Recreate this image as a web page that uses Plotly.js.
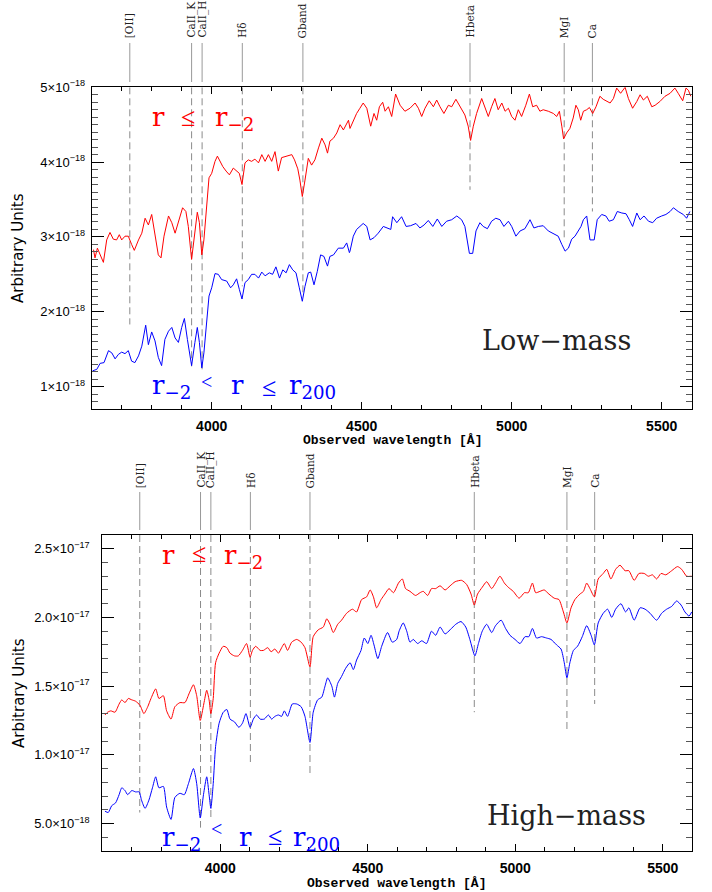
<!DOCTYPE html>
<html>
<head>
<meta charset="utf-8">
<script src="https://cdn.plot.ly/plotly-3.0.1.min.js"></script>
<style>html,body{margin:0;padding:0;background:#fff;}#chart{width:712px;height:892px;}</style>
</head>
<body>
<div id="chart"></div>
<script>
// ---------------- DATA ----------------
// Spectral line markers
const lineNames = ["[OII]", "CaII_K", "CaII_H", "H\u03b4", "Gband", "Hbeta", "MgI", "Ca"];
const lineWaves = [3727, 3933, 3968, 4102, 4304, 4861, 5175, 5269];
// lower end of dashed markers (top panel in 1e-18, bottom panel in 1e-17)
const lineEndsLow  = [1.83, 1.27, 1.23, 2.34, 2.26, 3.63, 2.94, 3.34];
const lineEndsHigh = [0.58, 0.47, 0.53, 0.94, 0.86, 1.31, 1.18, 1.37];

// Low-mass, r <= r_-2 (units of 1e-18)
const lowRedWave = [3606,3611,3619,3639,3650,3661,3672,3683,3692,3700,3711,3722,3733,3742,3756,3767,3778,3789,3800,3811,3822,3831,3841,3856,3867,3878,3889,3903,3914,3922,3933,3942,3952,3959,3967,3974,3983,3991,4000,4011,4019,4028,4037,4048,4059,4072,4083,4092,4101,4111,4122,4133,4144,4156,4167,4178,4189,4200,4211,4222,4233,4244,4256,4267,4276,4287,4294,4302,4311,4322,4333,4344,4356,4367,4378,4386,4394,4406,4417,4428,4439,4456,
4461,4472,4483,4494,4505,4517,4530,4541,4550,4559,4570,4578,4589,4600,4613,4628,4644,4661,4678,4689,4700,4711,4725,4739,4750,4761,4774,4789,4800,4814,4828,4844,4855,4863,4872,4883,4900,4911,4922,4933,4944,4955,4967,4978,4989,5000,5011,5022,5033,5047,5059,5070,5083,5094,5105,5122,5139,5150,5159,5167,5173,5183,5194,5205,5214,5222,5230,5239,5250,5259,5270,5281,5294,5305,5317,5328,5339,5350,5363,5378,5389,5403,5417,5428,5439,5452,5467,5478,5494,5511,5528,5544,5555,5570,5581,5589,5597];
const lowRedFlux = [2.83,2.72,2.85,2.66,2.96,3.06,2.97,2.96,3.03,2.96,3.01,3.01,2.90,2.82,2.96,3.05,3.25,3.16,3.30,3.01,2.76,2.72,3.01,3.28,3.19,3.05,3.19,3.39,3.34,3.14,2.70,3.01,3.33,3.19,2.76,2.96,3.41,3.79,3.85,4.01,4.08,4.01,3.94,3.88,3.83,3.92,3.88,3.85,3.70,3.99,4.03,4.01,4.04,3.99,4.10,4.01,4.10,4.01,4.14,3.88,4.06,4.07,4.08,4.10,4.03,3.91,3.76,3.54,3.76,4.05,3.96,4.03,4.19,4.32,4.23,4.12,4.28,4.32,4.39,4.50,4.43,4.56,
4.45,4.56,4.65,4.72,4.79,4.72,4.48,4.65,4.56,4.74,4.80,4.68,4.74,4.61,4.91,4.76,4.68,4.72,4.79,4.72,4.61,4.72,4.82,4.74,4.83,4.74,4.65,4.76,4.74,4.84,4.74,4.63,4.48,4.29,4.48,4.65,4.85,4.74,4.61,4.74,4.85,4.70,4.79,4.68,4.72,4.61,4.56,4.70,4.61,4.76,4.91,4.74,4.76,4.68,4.70,4.68,4.65,4.61,4.68,4.48,4.31,4.39,4.45,4.59,4.76,4.70,4.56,4.68,4.70,4.73,4.65,4.74,4.88,4.84,4.81,4.79,4.85,4.99,4.92,5.00,4.85,4.72,4.81,4.90,4.83,4.88,4.74,4.76,4.81,4.88,4.92,4.99,4.92,4.82,4.99,4.96,4.88];

// Low-mass, r_-2 < r <= r_200 (units of 1e-18)
const lowBlueWave = [3603,3617,3628,3641,3656,3667,3678,3689,3700,3711,3722,3733,3744,3756,3767,3780,3789,3800,3811,3822,3833,3844,3856,3867,3878,3889,3900,3909,3919,3933,3944,3952,3959,3967,3974,3983,3991,4000,4011,4022,4033,4050,4063,4072,4083,4092,4101,4111,4122,4133,4144,4156,4167,4178,4192,4203,4214,4226,4237,4248,4259,4270,4281,4292,4302,4311,4322,4330,4341,4352,4363,4374,4386,4394,4406,4422,4439,4450,4459,
4461,4472,4483,4494,4505,4517,4528,4541,4555,4572,4585,4597,4603,4617,4633,4648,4663,4681,4694,4708,4722,4737,4752,4767,4783,4800,4817,4833,4844,4852,4859,4870,4881,4894,4905,4919,4933,4947,4961,4974,4989,5000,5014,5028,5044,5061,5074,5089,5105,5122,5139,5155,5167,5178,5189,5200,5211,5222,5231,5239,5250,5261,5275,5285,5300,5314,5325,5339,5352,5367,5381,5392,5403,5417,5428,5441,5456,5470,5483,5500,5514,5528,5539,5555,5572,5583,5594];
const lowBlueFlux = [1.21,1.23,1.31,1.32,1.48,1.45,1.37,1.43,1.46,1.44,1.48,1.34,1.32,1.41,1.54,1.82,1.56,1.73,1.61,1.39,1.28,1.63,1.74,1.79,1.65,1.59,1.79,1.91,1.63,1.28,1.59,1.79,1.59,1.25,1.45,1.90,2.21,2.32,2.51,2.50,2.43,2.41,2.32,2.36,2.44,2.30,2.17,2.39,2.43,2.50,2.50,2.45,2.53,2.48,2.52,2.50,2.60,2.45,2.56,2.52,2.63,2.56,2.52,2.32,2.14,2.34,2.52,2.53,2.36,2.54,2.76,2.74,2.61,2.74,2.76,2.85,2.85,2.92,2.79,
2.81,3.01,3.10,3.14,3.18,3.14,2.96,2.99,3.05,3.14,3.12,3.10,3.27,3.19,3.27,3.14,3.15,3.18,3.12,3.16,3.22,3.14,3.24,3.14,3.21,3.23,3.28,3.23,3.14,2.96,2.78,2.78,3.08,3.19,3.14,3.11,3.21,3.25,3.23,3.14,3.21,3.14,3.01,3.08,3.11,3.23,3.12,3.14,3.15,3.08,3.04,3.01,2.90,2.81,2.85,2.97,3.01,3.08,3.14,3.23,3.28,2.96,2.96,3.23,3.30,3.28,3.21,3.23,3.34,3.32,3.31,3.23,3.14,3.32,3.23,3.28,3.21,3.19,3.25,3.28,3.30,3.34,3.39,3.34,3.30,3.25,3.34];

// High-mass, r <= r_-2 (units of 1e-17)
const highRedWave = [3609,3618,3629,3643,3657,3666,3677,3688,3700,3713,3728,3741,3754,3765,3781,3792,3807,3818,3833,3846,3863,3880,3895,3909,3920,3932,3944,3954,3962,3968,3976,3984,3996,4010,4022,4033,4048,4061,4075,4089,4101,4109,4120,4135,4146,4161,4172,4185,4197,4208,4217,4228,4242,4259,4274,4287,4304,4315,4332,4349,4361,4372,4383,4398,4411,4428,4448,4462,4479,4496,4508,4519,4530,4545,4558,4572,4587,4604,
4617,4628,4643,4662,4677,4688,4703,4716,4730,4745,4762,4779,4796,4818,4835,4850,4861,4872,4888,4903,4920,4933,4948,4963,4976,4993,5013,5031,5044,5058,5069,5084,5098,5114,5132,5148,5163,5175,5189,5202,5219,5231,5242,5253,5268,5281,5298,5310,5324,5340,5355,5372,5385,5403,5419,5437,5451,5465,5479,5494,5510,5530,5550,5564,5581,5598];
const highRedFlux = [1.29,1.31,1.32,1.31,1.37,1.40,1.38,1.41,1.40,1.39,1.36,1.30,1.35,1.41,1.48,1.41,1.43,1.32,1.26,1.35,1.38,1.38,1.45,1.51,1.43,1.25,1.37,1.47,1.40,1.30,1.41,1.67,1.74,1.79,1.78,1.74,1.72,1.72,1.76,1.81,1.71,1.76,1.79,1.76,1.76,1.78,1.75,1.77,1.74,1.78,1.81,1.76,1.82,1.84,1.82,1.78,1.64,1.86,1.91,1.93,1.99,1.95,1.89,1.95,1.98,2.03,2.06,2.04,2.13,2.15,2.20,2.15,2.07,2.13,2.17,2.21,2.18,2.25,
2.28,2.21,2.19,2.16,2.18,2.19,2.16,2.21,2.21,2.23,2.20,2.23,2.26,2.27,2.24,2.17,2.09,2.17,2.22,2.26,2.21,2.25,2.30,2.25,2.22,2.19,2.14,2.18,2.18,2.25,2.18,2.19,2.20,2.17,2.14,2.13,2.04,1.96,2.07,2.13,2.17,2.19,2.25,2.21,2.15,2.28,2.32,2.35,2.28,2.35,2.38,2.34,2.34,2.27,2.32,2.32,2.30,2.31,2.28,2.32,2.31,2.34,2.37,2.35,2.30,2.30];

// High-mass, r_-2 < r <= r_200 (units of 1e-17)
const highBlueWave = [3609,3620,3632,3645,3657,3666,3677,3686,3700,3713,3725,3733,3745,3758,3770,3781,3792,3807,3818,3833,3846,3863,3878,3892,3909,3920,3932,3943,3954,3962,3968,3976,3984,3996,4010,4022,4033,4048,4063,4075,4087,4101,4112,4123,4135,4149,4163,4174,4185,4197,4208,4217,4228,4244,4259,4274,4287,4304,4315,4330,4344,4355,4364,4378,4387,4398,4411,4425,4440,4451,4462,4477,4488,4500,4511,4521,4534,4547,4567,4583,4598,4606,
4620,4632,4643,4654,4669,4683,4699,4716,4730,4745,4762,4779,4798,4816,4832,4846,4863,4875,4888,4903,4920,4933,4952,4967,4982,4999,5016,5033,5046,5058,5072,5089,5106,5121,5140,5155,5166,5175,5185,5197,5211,5227,5242,5257,5268,5281,5298,5313,5327,5340,5358,5374,5385,5403,5423,5440,5457,5479,5496,5513,5530,5547,5562,5575,5589,5598];
const highBlueFlux = [0.59,0.58,0.63,0.65,0.71,0.76,0.74,0.71,0.74,0.73,0.73,0.67,0.61,0.67,0.76,0.84,0.76,0.77,0.62,0.53,0.69,0.72,0.71,0.79,0.90,0.79,0.54,0.71,0.84,0.71,0.61,0.79,1.06,1.23,1.31,1.33,1.26,1.24,1.20,1.23,1.30,1.20,1.26,1.29,1.26,1.26,1.29,1.26,1.28,1.29,1.28,1.32,1.28,1.37,1.37,1.35,1.28,1.09,1.31,1.40,1.42,1.50,1.56,1.50,1.42,1.52,1.57,1.63,1.67,1.62,1.69,1.76,1.85,1.81,1.87,1.80,1.70,1.79,1.89,1.82,1.84,1.90,
1.96,1.90,1.82,1.84,1.81,1.83,1.81,1.90,1.87,1.93,1.88,1.91,1.95,1.97,1.93,1.84,1.72,1.81,1.90,1.95,1.89,1.94,1.98,1.92,1.87,1.84,1.81,1.86,1.86,1.92,1.85,1.86,1.85,1.84,1.80,1.77,1.67,1.56,1.67,1.76,1.79,1.86,1.94,1.87,1.80,1.96,2.03,2.06,2.00,2.06,2.10,2.04,2.07,1.98,2.07,2.06,2.03,1.98,2.03,2.06,2.08,2.12,2.09,2.04,2.01,2.04];

// Tick labels
const xTickVals = [4000, 4500, 5000, 5500];
const xTickText = ["4000", "4500", "5000", "5500"];
const lowTickVals = [1, 2, 3, 4, 5];
const lowTickText = ["1\u00d710<sup>\u221218</sup>", "2\u00d710<sup>\u221218</sup>", "3\u00d710<sup>\u221218</sup>", "4\u00d710<sup>\u221218</sup>", "5\u00d710<sup>\u221218</sup>"];
const highTickVals = [0.5, 1.0, 1.5, 2.0, 2.5];
const highTickText = ["5.0\u00d710<sup>\u221218</sup>", "1.0\u00d710<sup>\u221217</sup>", "1.5\u00d710<sup>\u221217</sup>", "2.0\u00d710<sup>\u221217</sup>", "2.5\u00d710<sup>\u221217</sup>"];

const xTitle = "Observed wavelength [\u00c5]";
const yTitle = "Arbitrary Units";

// ---------------- LAYOUT ----------------
const W = 712, H = 892;
const px = v => v / W;
const py = v => 1 - v / H;

const RED = "rgb(255,0,0)", BLUE = "rgb(0,0,255)";

const traces = [
  {x: lowRedWave, y: lowRedFlux, xaxis: "x", yaxis: "y", mode: "lines", line: {color: RED, width: 1}, hoverinfo: "skip"},
  {x: lowBlueWave, y: lowBlueFlux, xaxis: "x", yaxis: "y", mode: "lines", line: {color: BLUE, width: 1}, hoverinfo: "skip"},
  {x: highRedWave, y: highRedFlux, xaxis: "x2", yaxis: "y2", mode: "lines", line: {color: RED, width: 1, shape: "spline", smoothing: 0.6}, hoverinfo: "skip"},
  {x: highBlueWave, y: highBlueFlux, xaxis: "x2", yaxis: "y2", mode: "lines", line: {color: BLUE, width: 1, shape: "spline", smoothing: 0.6}, hoverinfo: "skip"}
];

function xAxis(dom, anchor) {
  return {
    domain: dom, anchor: anchor, range: [3600, 5600],
    tickmode: "array", tickvals: xTickVals, ticktext: xTickText,
    ticks: "inside", ticklen: 7, tickcolor: "#000", tickwidth: 1,
    minor: {dtick: 100, tick0: 0, ticks: "inside", ticklen: 4, tickcolor: "#000"},
    showline: true, linecolor: "#000", linewidth: 1, mirror: "ticks",
    showgrid: false, zeroline: false,
    tickfont: {family: "Liberation Sans, Arial, sans-serif", size: 14, color: "#000", weight: "bold"},
    ticklabelstandoff: 4
  };
}
function yAxis(dom, anchor, range, vals, text, standoff) {
  return {
    domain: dom, anchor: anchor, range: range,
    tickmode: "array", tickvals: vals, ticktext: text,
    ticks: "inside", ticklen: 12, tickcolor: "#000", tickwidth: 1,
    minor: {dtick: 0.1, tick0: 0, ticks: "inside", ticklen: 6, tickcolor: "#555"},
    showline: true, linecolor: "#000", linewidth: 1, mirror: "ticks",
    showgrid: false, zeroline: false,
    tickfont: {family: "Liberation Sans, Arial, sans-serif", size: 13, color: "#000"},
    ticklabelstandoff: standoff
  };
}

const topDom = [py(409), py(87.3)];
const botDom = [py(851), py(535)];
const lowRange = [0.7, 5.0];
const highRange = [0.3, 2.6];

const shapes = [];
const annotations = [];

// spectral line markers for both panels
function addMarkers(xref, yref, yTop, ends, solidTopPx, solidBotPx, labelBotPx) {
  lineWaves.forEach((w, i) => {
    shapes.push({type: "line", xref: xref, yref: "paper", x0: w, x1: w, y0: py(solidBotPx), y1: py(solidTopPx),
      line: {color: "#999", width: 1}});
    shapes.push({type: "line", xref: xref, yref: yref, x0: w, x1: w, y0: yTop, y1: ends[i], layer: "below",
      line: {color: "#8a8a8a", width: 1, dash: "7px,4px"}});
    annotations.push({xref: xref, yref: "paper", x: w, y: py(labelBotPx), text: lineNames[i],
      textangle: -90, showarrow: false, xanchor: "center", yanchor: "bottom", borderpad: 0,
      font: {family: "DejaVu Serif, serif", size: 10.5, color: "#222"}});
  });
}
addMarkers("x", "y", lowRange[1], lineEndsLow, 43, 82, 39);
addMarkers("x2", "y2", highRange[1], lineEndsHigh, 492, 530, 489);

// axis titles
function addTitles(xc, xty, ytx, yc) {
  annotations.push({xref: "paper", yref: "paper", x: px(xc), y: py(xty), text: xTitle, showarrow: false,
    xanchor: "center", yanchor: "middle",
    font: {family: "Liberation Mono, Courier New, monospace", size: 13, color: "#000", weight: "bold"}});
  annotations.push({xref: "paper", yref: "paper", x: px(ytx), y: py(yc), text: yTitle, showarrow: false,
    textangle: -90, xanchor: "center", yanchor: "middle",
    font: {family: "DejaVu Sans, sans-serif", size: 15, color: "#000"}});
}
addTitles(392, 440, 18, 248);
addTitles(397, 883, 19, 693);

// label pieces (pixel positions)
const SERIF = "DejaVu Serif, serif";
const TSERIF = "Liberation Serif, serif";
function piece(text, x, y, color, size, fam, xa) {
  annotations.push({xref: "paper", yref: "paper", x: px(x), y: py(y), text: text, showarrow: false,
    xanchor: xa || "left", yanchor: "top", borderpad: 0,
    font: {family: fam || SERIF, size: size, color: color}});
}
// top red: r <= r_-2
piece("r", 151, 101, RED, 26);
piece("\u2264", 188, 102, RED, 26, TSERIF, "center");
piece("r<sub>\u22122</sub>", 214, 101, RED, 26);
// top blue: r_-2 < r <= r_200
piece("r<sub>\u22122</sub>", 151, 369, BLUE, 26);
piece("&lt;", 206, 370, BLUE, 20, TSERIF, "center");
piece("r", 230, 369, BLUE, 26);
piece("\u2264", 269, 372, BLUE, 26, TSERIF, "center");
piece("r<sub>200</sub>", 288, 369, BLUE, 26);
// bottom red
piece("r", 161, 539, RED, 26);
piece("\u2264", 199, 538, RED, 26, TSERIF, "center");
piece("r<sub>\u22122</sub>", 223, 539, RED, 26);
// bottom blue
piece("r<sub>\u22122</sub>", 161, 821, BLUE, 26);
piece("&lt;", 216, 817, BLUE, 20, TSERIF, "center");
piece("r", 238, 821, BLUE, 26);
piece("\u2264", 275, 821, BLUE, 26, TSERIF, "center");
piece("r<sub>200</sub>", 292, 821, BLUE, 26);

// panel names
annotations.push({xref: "paper", yref: "paper", x: px(556), y: py(340), text: "Low\u2212mass", showarrow: false,
  xanchor: "center", yanchor: "middle", font: {family: SERIF, size: 27, color: "#222"}});
annotations.push({xref: "paper", yref: "paper", x: px(566), y: py(815), text: "High\u2212mass", showarrow: false,
  xanchor: "center", yanchor: "middle", font: {family: SERIF, size: 27, color: "#222"}});

const layout = {
  width: W, height: H,
  margin: {l: 0, r: 0, t: 0, b: 0},
  paper_bgcolor: "#fff", plot_bgcolor: "#fff",
  showlegend: false,
  xaxis: xAxis([px(91.7), px(691.7)], "y"),
  yaxis: yAxis(topDom, "x", lowRange, lowTickVals, lowTickText, 3),
  xaxis2: xAxis([px(102.3), px(692.3)], "y2"),
  yaxis2: yAxis(botDom, "x2", highRange, highTickVals, highTickText, 9),
  shapes: shapes,
  annotations: annotations
};

Plotly.newPlot("chart", traces, layout, {staticPlot: true, displayModeBar: false});
</script>
</body>
</html>
